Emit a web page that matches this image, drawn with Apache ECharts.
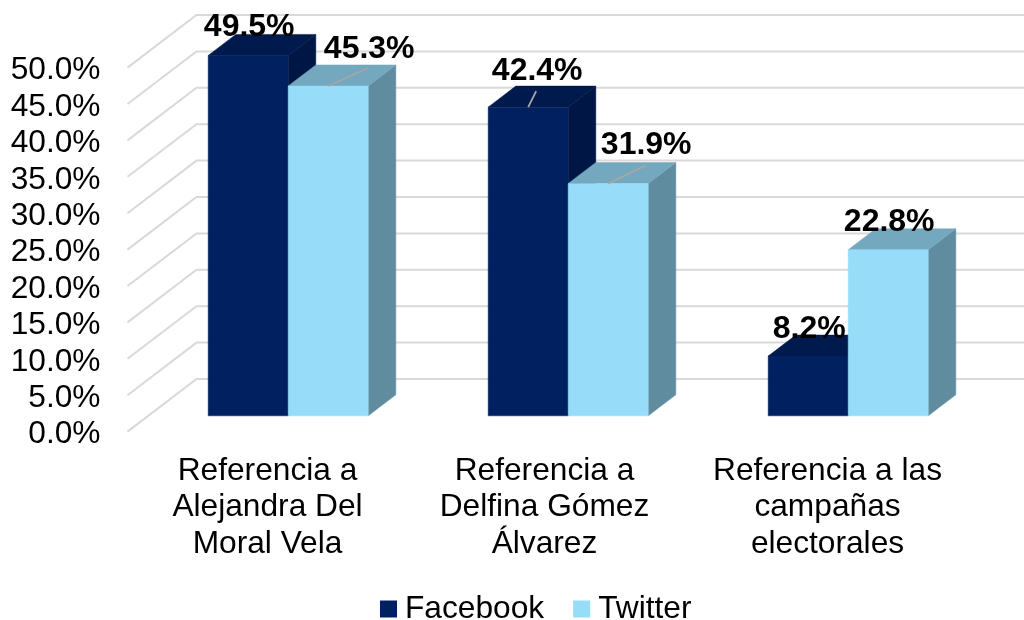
<!DOCTYPE html>
<html>
<head>
<meta charset="utf-8">
<style>html,body{margin:0;padding:0;background:#fff}#c{width:1024px;height:620px}</style>
<script src="https://cdn.jsdelivr.net/npm/echarts@6/dist/echarts.min.js"></script>
</head>
<body>
<div id="c"></div>
<script>
const categories = ['Referencia a\nAlejandra Del\nMoral Vela', 'Referencia a\nDelfina Gómez\nÁlvarez', 'Referencia a las\ncampañas\nelectorales'];
const facebook = [49.5, 42.4, 8.2];
const twitter = [45.3, 31.9, 22.8];
const yTicks = [0, 5, 10, 15, 20, 25, 30, 35, 40, 45, 50];

const FONT = '"Liberation Sans", Arial, sans-serif';
const DEPTH = { x: 69, y: -52.6 };
const FRONT = 0.3, BACK = 0.7;
const BAR_BAND = 80 / 280;
const PAL = {
  Facebook: { front: '#002060', top: '#001A4D', side: '#001645' },
  Twitter: { front: '#97DCF8', top: '#73A8BE', side: '#608CA0' }
};
// label nudge from the bar's top-front centre; leader is the grey line drawn when present
const labelPlace = {
  Facebook: [{ dx: 1, dy: -28 }, { dx: 9, dy: -36, lx: 8, ly: -16 }, { dx: 1, dy: -27 }],
  Twitter: [{ dx: 41, dy: -37, lx: 40, ly: -18 }, { dx: 38, dy: -38, lx: 37, ly: -18 }, { dx: 1, dy: -28 }]
};

function face(pts, fill) {
  return { type: 'polygon', shape: { points: pts }, style: { fill: fill, stroke: fill, lineWidth: 0.5 } };
}

function barRenderer(name, side) {
  return function (params, api) {
    const i = api.value(0), v = api.value(1);
    const band = api.size([1, 0])[0];
    const w = band * BAR_BAND;
    const c = api.coord([i, v]);
    const base = api.coord([i, 0]);
    const x0 = c[0] + DEPTH.x * FRONT + (side < 0 ? -w : 0);
    const x1 = x0 + w;
    const yT = c[1] + DEPTH.y * FRONT;
    const yB = base[1] + DEPTH.y * FRONT;
    const dx = DEPTH.x * (BACK - FRONT), dy = DEPTH.y * (BACK - FRONT);
    const p = PAL[name];
    const children = [
      face([[x1, yT], [x1 + dx, yT + dy], [x1 + dx, yB + dy], [x1, yB]], p.side),
      face([[x0, yT], [x1, yT], [x1 + dx, yT + dy], [x0 + dx, yT + dy]], p.top),
      face([[x0, yT], [x1, yT], [x1, yB], [x0, yB]], p.front)
    ];
    const cx = (x0 + x1) / 2;
    const pl = labelPlace[name][params.dataIndex];
    if (pl.lx !== undefined) {
      children.push({
        type: 'line', z2: 20,
        shape: { x1: cx, y1: yT, x2: cx + pl.lx, y2: yT + pl.ly },
        style: { stroke: '#A6A6A6', lineWidth: 1.8 }
      });
    }
    children.push({
      type: 'text', z2: 30, x: cx + pl.dx, y: yT + pl.dy,
      style: {
        text: v.toFixed(1) + '%', fill: '#000', font: 'bold 32px ' + FONT,
        align: 'center', verticalAlign: 'middle'
      }
    });
    return { type: 'group', children: children };
  };
}

function wallRenderer(params, api) {
  const cs = params.coordSys;
  const y = api.coord([0, api.value(1)])[1];
  return {
    type: 'polyline',
    shape: { points: [[cs.x, y], [cs.x + DEPTH.x, y + DEPTH.y], [cs.x + cs.width + DEPTH.x, y + DEPTH.y]] },
    style: { fill: 'none', stroke: '#D9D9D9', lineWidth: 2 }
  };
}

const chart = echarts.init(document.getElementById('c'), null, { renderer: 'canvas' });
chart.setOption({
  animation: false,
  backgroundColor: '#fff',
  textStyle: { fontFamily: FONT },
  grid: { left: 127.5, top: 67.6, width: 840, height: 364, containLabel: false },
  xAxis: {
    type: 'category', data: categories,
    axisLine: { show: false }, axisTick: { show: false }, splitLine: { show: false },
    axisLabel: {
      color: '#000', fontSize: 31.7, fontFamily: FONT, lineHeight: 36.5, margin: 21, interval: 0,
      formatter: (v, i) => i === 1
        ? v.split('\n').map(s => '{shift|' + s + '}').join('\n')
        : v,
      rich: { shift: { color: '#000', fontSize: 31.7, fontFamily: FONT, lineHeight: 36.5, padding: [0, 6, 0, 0] } }
    }
  },
  yAxis: {
    type: 'value', min: 0, max: 50, interval: 5,
    axisLine: { show: false }, axisTick: { show: false }, splitLine: { show: false },
    axisLabel: { color: '#000', fontSize: 31.7, fontFamily: FONT, margin: 27, formatter: v => v.toFixed(1) + '%', verticalAlign: 'top', lineHeight: 6 }
  },
  legend: {
    data: ['Facebook', 'Twitter'], left: 380, top: 593, padding: 0,
    icon: 'rect', itemWidth: 17, itemHeight: 17, itemGap: 29,
    textStyle: { color: '#000', fontSize: 31.7, fontFamily: FONT, padding: [0, 0, 0, 3] }
  },
  series: [
    { type: 'custom', name: 'walls', z: 1, silent: true, renderItem: wallRenderer,
      encode: { x: 0, y: 1 }, data: yTicks.map(t => [0, t]) },
    { type: 'custom', name: 'Facebook', z: 2, itemStyle: { color: PAL.Facebook.front },
      renderItem: barRenderer('Facebook', -1), encode: { x: 0, y: 1 },
      data: facebook.map((v, i) => [i, v]) },
    { type: 'custom', name: 'Twitter', z: 3, itemStyle: { color: PAL.Twitter.front },
      renderItem: barRenderer('Twitter', 1), encode: { x: 0, y: 1 },
      data: twitter.map((v, i) => [i, v]) }
  ]
});
</script>
</body>
</html>
